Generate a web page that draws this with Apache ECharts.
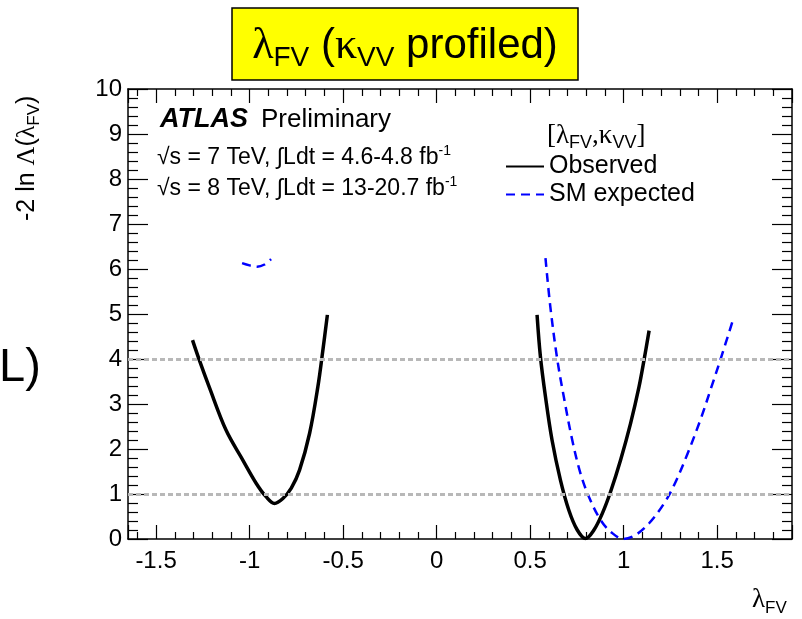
<!DOCTYPE html>
<html>
<head>
<meta charset="utf-8">
<title>lambda_FV scan</title>
<script src="https://cdn.jsdelivr.net/npm/echarts@6.0.0/dist/echarts.min.js"></script>
<style>
  html, body { margin: 0; padding: 0; background: #fff; }
  #chart { width: 802px; height: 619px; }
</style>
</head>
<body>
<div id="chart"></div>
<script>
// -2 ln Lambda(lambda_FV) scan, kappa_VV profiled
const xMin = -1.65
const xMax = 1.9
const xTickLabels = [-1.5, -1, -0.5, 0, 0.5, 1, 1.5]
const yTickLabels = [0, 1, 2, 3, 4, 5, 6, 7, 8, 9, 10]
const refLevels = [1, 4]

// observed, two separate minima
const observedLeft = [
  [-1.305, 4.42], [-1.269, 3.98], [-1.216, 3.38], [-1.126, 2.42], [-1.037, 1.76],
  [-0.965, 1.24], [-0.912, 0.94], [-0.867, 0.79], [-0.822, 0.90], [-0.777, 1.13],
  [-0.733, 1.53], [-0.679, 2.35], [-0.635, 3.38], [-0.608, 4.2], [-0.584, 4.98]
]
const observedRight = [
  [0.537, 4.98], [0.555, 4.05], [0.582, 3.16], [0.617, 2.2], [0.662, 1.31],
  [0.707, 0.64], [0.752, 0.2], [0.796, 0.01], [0.841, 0.2], [0.886, 0.57],
  [0.930, 1.05], [0.984, 1.76], [1.037, 2.57], [1.082, 3.38], [1.109, 3.98], [1.136, 4.63]
]
// SM expected
const expectedLeft = [
  [-1.04, 6.13], [-1.0, 6.08], [-0.96, 6.05], [-0.92, 6.1], [-0.885, 6.22]
]
const expectedRight = [
  [0.582, 6.24], [0.608, 5.16], [0.644, 4.02], [0.680, 3.16], [0.725, 2.2],
  [0.769, 1.46], [0.814, 0.94], [0.877, 0.42], [0.939, 0.13], [1.0, 0.0],
  [1.064, 0.09], [1.136, 0.35], [1.216, 0.79], [1.270, 1.2], [1.342, 1.9],
  [1.413, 2.68], [1.467, 3.35], [1.520, 4.02], [1.583, 4.85]
]

const sans = 'Liberation Sans, Arial, Helvetica, sans-serif'
const serif = 'Liberation Serif, DejaVu Serif, serif'

const frameLine = { show: true, onZero: false, lineStyle: { color: '#000', width: 1.5 } }
const tickStyle = { color: '#000', width: 1.2 }

function makeXAxis(position, showLabels) {
  return {
    type: 'value',
    position,
    min: xMin,
    max: xMax,
    minInterval: 0.5,
    maxInterval: 0.5,
    splitNumber: 7,
    axisLine: frameLine,
    axisTick: { inside: true, length: 14, lineStyle: tickStyle },
    minorTick: { show: true, splitNumber: 5, length: 7, lineStyle: tickStyle },
    splitLine: { show: false },
    axisLabel: {
      show: showLabels,
      margin: 10,
      color: '#000',
      fontFamily: sans,
      fontSize: 24,
      showMinLabel: false,
      showMaxLabel: false,
      formatter: v => {
        const t = xTickLabels.find(t => Math.abs(t - v) < 1e-6)
        return t === undefined ? '' : String(t)
      }
    }
  }
}

function makeYAxis(position, showLabels) {
  return {
    type: 'value',
    position,
    min: yTickLabels[0],
    max: yTickLabels[yTickLabels.length - 1],
    interval: 1,
    axisLine: frameLine,
    axisTick: { inside: true, length: 20, lineStyle: tickStyle },
    minorTick: { show: true, splitNumber: 5, length: 10, lineStyle: tickStyle },
    splitLine: { show: false },
    axisLabel: {
      show: showLabels,
      margin: 6,
      color: '#000',
      fontFamily: sans,
      fontSize: 24
    }
  }
}

const obsStyle = { color: '#000', width: 3.5 }
const expStyle = { color: '#0000ff', width: 2.5, type: [9, 6] }

function lineSeries(name, data, style, extra) {
  return Object.assign({
    name,
    type: 'line',
    data,
    symbol: 'none',
    showSymbol: false,
    smooth: 0.35,
    color: style.color,
    lineStyle: style
  }, extra || {})
}

const chart = echarts.init(document.getElementById('chart'), null, { renderer: 'canvas' })

const option = {
  animation: false,
  backgroundColor: '#fff',
  grid: { left: 128, top: 89, width: 664, height: 450, containLabel: false, outerBoundsMode: 'none' },
  xAxis: [makeXAxis('bottom', true), makeXAxis('top', false)],
  yAxis: [makeYAxis('left', true), makeYAxis('right', false)],
  legend: {
    orient: 'vertical',
    left: 500,
    top: 149,
    itemWidth: 38,
    itemHeight: 14,
    itemGap: 3,
    selectedMode: false,
    itemStyle: { opacity: 0, borderWidth: 0 },
    data: ['Observed', 'SM expected'],
    textStyle: { fontFamily: sans, fontSize: 25, color: '#000', lineHeight: 25 }
  },
  series: [
    lineSeries('Observed', observedLeft, obsStyle, {
      markLine: {
        silent: true,
        symbol: 'none',
        label: { show: false },
        lineStyle: { color: '#b8b8b8', width: 3, type: [5, 3] },
        data: refLevels.map(v => ({ yAxis: v }))
      }
    }),
    lineSeries('Observed', observedRight, obsStyle),
    lineSeries('SM expected', expectedLeft, expStyle),
    lineSeries('SM expected', expectedRight, expStyle)
  ],
  graphic: [
    // title box
    {
      type: 'rect',
      shape: { x: 232, y: 8, width: 346, height: 72 },
      style: { fill: '#ffff00', stroke: '#000', lineWidth: 1.5 }
    },
    {
      type: 'text',
      x: 405, y: 46,
      style: {
        text: '{g|λ}{s|FV} ({g|κ}{s|VV} profiled)',
        fill: '#000', fontFamily: sans, fontSize: 42, lineHeight: 52,
        textAlign: 'center', textVerticalAlign: 'middle',
        rich: {
          g: { fontFamily: serif, fontSize: 44, lineHeight: 52 },
          s: { fontFamily: sans, fontSize: 28, lineHeight: 52, padding: [24, 0, 0, 0] }
        }
      }
    },
    // cut-off text at left edge
    {
      type: 'text',
      x: -1, y: 368,
      style: { text: 'L)', fill: '#000', fontFamily: sans, fontSize: 47, textVerticalAlign: 'middle' }
    },
    // ATLAS label
    {
      type: 'text',
      x: 160, y: 120,
      style: {
        text: '{b|ATLAS}Preliminary',
        fill: '#000', fontFamily: sans, fontSize: 26, textVerticalAlign: 'middle',
        rich: { b: { fontFamily: sans, fontSize: 27, fontWeight: 'bold', fontStyle: 'italic', padding: [0, 13, 0, 0] } }
      }
    },
    {
      type: 'text',
      x: 157, y: 158,
      style: {
        text: '√s = 7 TeV, ∫Ldt = 4.6-4.8 fb{u|-1}',
        fill: '#000', fontFamily: sans, fontSize: 23, lineHeight: 26, textVerticalAlign: 'middle',
        rich: { u: { fontFamily: sans, fontSize: 14, lineHeight: 26, padding: [0, 0, 14, 0] } }
      }
    },
    {
      type: 'text',
      x: 157, y: 189,
      style: {
        text: '√s = 8 TeV, ∫Ldt = 13-20.7 fb{u|-1}',
        fill: '#000', fontFamily: sans, fontSize: 23, lineHeight: 26, textVerticalAlign: 'middle',
        rich: { u: { fontFamily: sans, fontSize: 14, lineHeight: 26, padding: [0, 0, 14, 0] } }
      }
    },
    // legend header
    {
      type: 'text',
      x: 547, y: 136,
      style: {
        text: '[{g|λ}{s|FV},{g|κ}{s|VV}]',
        fill: '#000', fontFamily: serif, fontSize: 27, lineHeight: 32, textVerticalAlign: 'middle',
        rich: {
          g: { fontFamily: serif, fontSize: 27, lineHeight: 32 },
          s: { fontFamily: sans, fontSize: 18, lineHeight: 32, padding: [14, 0, 0, 0] }
        }
      }
    },
    // y axis title
    {
      type: 'text',
      x: 27, y: 221,
      rotation: Math.PI / 2,
      style: {
        text: '-2 ln {g|Λ}({g|λ}{s|FV})',
        fill: '#000', fontFamily: sans, fontSize: 25, lineHeight: 30,
        textAlign: 'left', textVerticalAlign: 'middle',
        rich: {
          g: { fontFamily: serif, fontSize: 26, lineHeight: 30 },
          s: { fontFamily: sans, fontSize: 17, lineHeight: 30, padding: [14, 0, 0, 0] }
        }
      }
    },
    // x axis title
    {
      type: 'text',
      x: 752, y: 600,
      style: {
        text: '{g|λ}{s|FV}',
        fill: '#000', fontFamily: sans, fontSize: 26, lineHeight: 32, textVerticalAlign: 'middle',
        rich: {
          g: { fontFamily: serif, fontSize: 27, lineHeight: 32 },
          s: { fontFamily: sans, fontSize: 17, lineHeight: 32, padding: [16, 0, 0, 0] }
        }
      }
    }
  ]
}

chart.setOption(option)
</script>
</body>
</html>
